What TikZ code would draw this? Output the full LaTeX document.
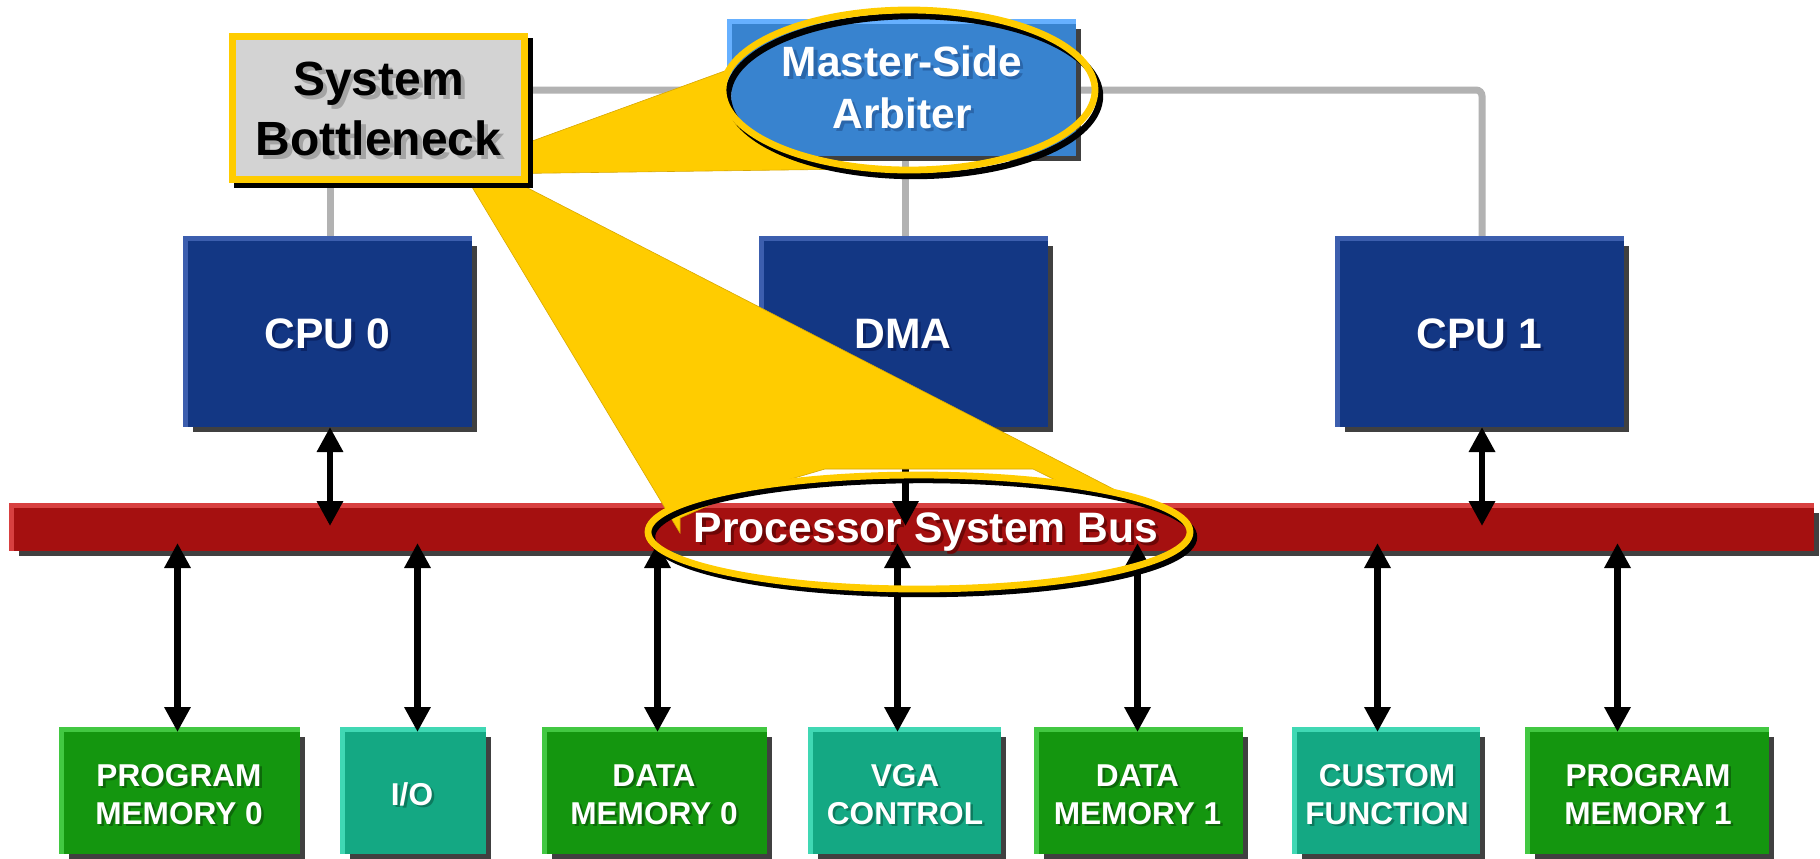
\documentclass[tikz,border=0pt]{standalone}
\usepackage{fontspec}
\setmainfont{Liberation Sans}
\usetikzlibrary{arrows.meta,backgrounds,shadows}

% palette
\definecolor{shade}{HTML}{404040}
\definecolor{ctlgray}{HTML}{B2B2B2}
\definecolor{hilite}{HTML}{FFCC00}
\definecolor{hiliteedge}{HTML}{D8A800}
\definecolor{sbfill}{HTML}{D3D3D3}
\definecolor{sbshade}{HTML}{A4A4A4}
\definecolor{arbdark}{HTML}{3883CF}
\definecolor{arblight}{HTML}{66B0FF}
\definecolor{arbshade}{HTML}{2A66AA}
\definecolor{cpudark}{HTML}{133784}
\definecolor{cpulight}{HTML}{3C5EAE}
\definecolor{cpushade}{HTML}{0B2466}
\definecolor{busdark}{HTML}{A51010}
\definecolor{buslight}{HTML}{D84040}
\definecolor{busshade}{HTML}{6E0606}
\definecolor{memdark}{HTML}{14960F}
\definecolor{memlight}{HTML}{42C842}
\definecolor{memshade}{HTML}{0D680A}
\definecolor{periphdark}{HTML}{14A883}
\definecolor{periphlight}{HTML}{40D8B4}
\definecolor{periphshade}{HTML}{0C7A5E}

% centred lines of text with an offset drop shadow behind them
\newcommand\shadowed[3]{%
  \makebox[0pt][l]{\kern#2\raisebox{-#2}{\color{#1}\begin{tabular}[t]{@{}c@{}}#3\end{tabular}}}%
  \begin{tabular}[t]{@{}c@{}}#3\end{tabular}}

\tikzset{
  blk/.style={rectangle, inner sep=0pt, outer sep=0pt,
    general shadow={fill=shade, shadow xshift=2.5pt, shadow yshift=-2.5pt}},
  cpubox/.style={blk, fill=cpudark, minimum width=142pt, minimum height=93pt},
  arbbox/.style={blk, fill=arbdark, minimum width=172pt, minimum height=66pt},
  busbar/.style={blk, fill=busdark, minimum width=900pt, minimum height=21.5pt},
  membox/.style={blk, fill=memdark, minimum height=61pt},
  periphbox/.style={blk, fill=periphdark, minimum height=61pt},
  bottleneck/.style={rectangle, inner sep=0pt, outer sep=0pt, fill=sbfill,
    draw=hilite, line width=3.5pt, minimum width=146pt, minimum height=71.5pt,
    general shadow={fill=black, draw=black, line width=3.5pt,
      shadow xshift=2.5pt, shadow yshift=-2.5pt}},
  ctl/.style={draw=ctlgray, line width=3.5pt},
  conn/.style={line width=3.2pt,
    {Triangle[length=12.5pt,width=12.5pt]}-{Triangle[length=12.5pt,width=12.5pt]}},
  callout/.style={fill=hilite, draw=hiliteedge, line width=0.3pt},
  ringshade/.style={draw=black, line width=3.2pt},
  ring/.style={draw=hilite, line width=3.4pt},
  lbl/.style={inner sep=0pt, outer sep=0pt, anchor=base, text=white},
  bigtxt/.style={font=\fontsize{21.3pt}{26pt}\selectfont\bfseries},
  smalltxt/.style={font=\fontsize{15.8pt}{19pt}\selectfont\bfseries},
}

\begin{document}
\begin{tikzpicture}[x=0.5pt,y=-0.5pt]
\useasboundingbox (0,0) rectangle (1820,858);

% masters, arbiter and bus
\node[cpubox] (cpu0) at (330,334) {};
\node[cpubox] (dma) at (905.5,334) {};
\node[cpubox] (cpu1) at (1482,334) {};
\node[arbbox] (arb) at (904,90) {};
\node[busbar] (bus) at (914,529.5) {};

% slaves
\node[membox, minimum width=118pt] (pm0) at (182,793) {};
\node[periphbox, minimum width=70.5pt] (io) at (415.5,793) {};
\node[membox, minimum width=110pt] (dm0) at (657,793) {};
\node[periphbox, minimum width=94pt] (vga) at (907,793) {};
\node[membox, minimum width=102pt] (dm1) at (1141,793) {};
\node[periphbox, minimum width=91.5pt] (cf) at (1388.5,793) {};
\node[membox, minimum width=119.5pt] (pm1) at (1649.5,793) {};

\begin{scope}[on background layer]
  \fill[white] (0,0) rectangle (1820,858);
  % arbitration request lines
  \draw[ctl] (cpu0.north) -- (cpu0.north |- arb.west);
  \draw[ctl, rounded corners=3pt] (cpu0.north |- arb.west) -- (cpu1.north |- arb.east) -- (cpu1.north);
  \draw[ctl] (dma.north |- arb.south) -- (dma.north);
  % raised light edge on the top and left of every block
  \foreach \n/\c in {cpu0/cpulight, dma/cpulight, cpu1/cpulight, arb/arblight,
      bus/buslight, pm0/memlight, io/periphlight, dm0/memlight, vga/periphlight,
      dm1/memlight, cf/periphlight, pm1/memlight}
    \fill[\c] ([shift={(-5,-5)}]\n.north west) rectangle (\n.south east);
\end{scope}

% bus connections
\coordinate (bt) at (0,526);
\draw[conn] (cpu0.south) -- (cpu0.south |- bt);
\draw[conn] (dma.south) -- (dma.south |- bt);
\draw[conn] (cpu1.south) -- (cpu1.south |- bt);

\coordinate (a1) at (177.5,543);
\coordinate (a2) at (417.5,543);
\coordinate (a3) at (657.5,543);
\coordinate (a4) at (897.5,543);
\coordinate (a5) at (1137.5,543);
\coordinate (a6) at (1377.5,543);
\coordinate (a7) at (1617.5,543);
\draw[conn] (a1) -- (a1 |- pm0.north);
\draw[conn] (a2) -- (a2 |- io.north);
\draw[conn] (a3) -- (a3 |- dm0.north);
\draw[conn] (a4) -- (a4 |- vga.north);
\draw[conn] (a5) -- (a5 |- dm1.north);
\draw[conn] (a6) -- (a6 |- cf.north);
\draw[conn] (a7) -- (a7 |- pm1.north);

% callout pointers
\fill[callout] (480,160) -- plot[domain=195:100, samples=20]
  ({909+186*cos(\x)},{90+80*sin(\x)}) -- (480,174) -- cycle;
\fill[callout] (448,147) -- (680,533) -- (680,518) -- (723,499) -- (825,469)
  -- (1033,469) -- plot[domain=-58:-40.5, samples=6]
  ({919+271*cos(\x)},{532+57*sin(\x)}) -- cycle;

% highlight rings
\coordinate (arbring) at (909,90);
\coordinate (busring) at (919,532);
\draw[ringshade] ([shift={(5,6)}]arbring) ellipse [x radius=93pt, y radius=40pt];
\draw[ring] (arbring) ellipse [x radius=93pt, y radius=40pt];
\draw[ringshade] ([shift={(4,5)}]busring) ellipse [x radius=135.5pt, y radius=28.5pt];
\draw[ring] (busring) ellipse [x radius=135.5pt, y radius=28.5pt];

\node[bottleneck] (sb) at (378.5,108) {};

% labels
\node[lbl, text=black, font=\fontsize{24pt}{30pt}\selectfont\bfseries] (sb-t) at (378.5,95.5)
  {\shadowed{sbshade}{2.2pt}{System\\Bottleneck}};
\node[lbl, font=\fontsize{21.2pt}{26pt}\selectfont\bfseries] (arb-t) at (902,76)
  {\shadowed{arbshade}{1.6pt}{Master-Side\\Arbiter}};
\node[lbl, bigtxt] (cpu0-t) at (327.5,348) {\shadowed{cpushade}{1.6pt}{CPU 0}};
\node[lbl, bigtxt] (dma-t) at (903,348) {\shadowed{cpushade}{1.6pt}{DMA}};
\node[lbl, bigtxt] (cpu1-t) at (1479.5,348) {\shadowed{cpushade}{1.6pt}{CPU 1}};
\node[lbl, bigtxt] (bus-t) at (926,542) {\shadowed{busshade}{1.6pt}{Processor System Bus}};

\node[lbl, smalltxt] (pm0-t) at (179,786) {\shadowed{memshade}{1.3pt}{PROGRAM\\MEMORY 0}};
\node[lbl, smalltxt] (io-t) at (412,805) {\shadowed{periphshade}{1.3pt}{I/O}};
\node[lbl, smalltxt] (dm0-t) at (654,786) {\shadowed{memshade}{1.3pt}{DATA\\MEMORY 0}};
\node[lbl, smalltxt] (vga-t) at (905,786) {\shadowed{periphshade}{1.3pt}{VGA\\CONTROL}};
\node[lbl, smalltxt] (dm1-t) at (1137.5,786) {\shadowed{memshade}{1.3pt}{DATA\\MEMORY 1}};
\node[lbl, smalltxt] (cf-t) at (1387,786) {\shadowed{periphshade}{1.3pt}{CUSTOM\\FUNCTION}};
\node[lbl, smalltxt] (pm1-t) at (1648,786) {\shadowed{memshade}{1.3pt}{PROGRAM\\MEMORY 1}};
\end{tikzpicture}
\end{document}
